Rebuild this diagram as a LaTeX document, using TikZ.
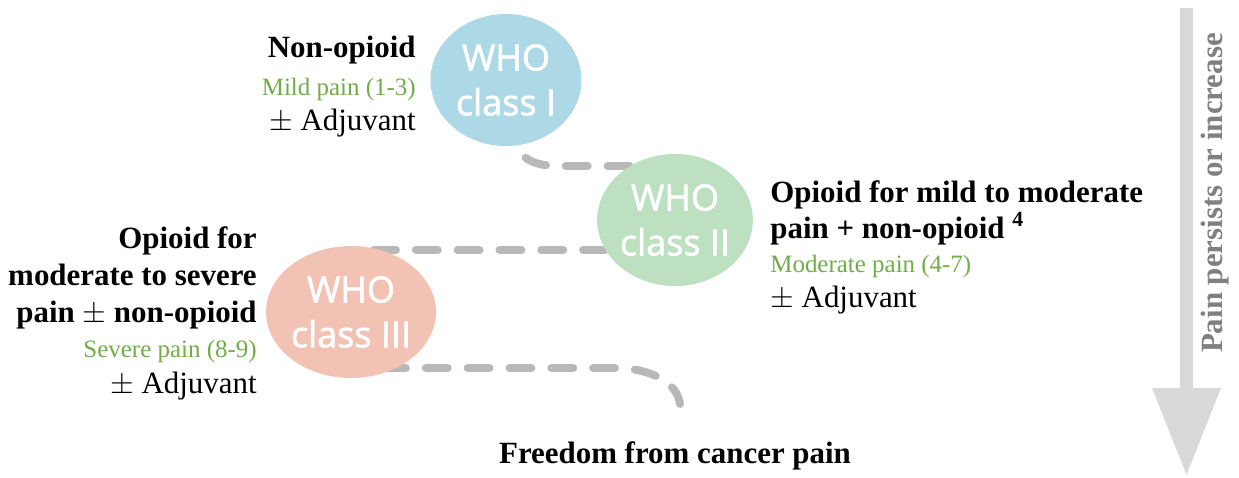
\documentclass[tikz,border=0pt]{standalone}
\usepackage{fontspec}
\setmainfont{Liberation Serif}
\newfontfamily\whofont[FakeBold=1.6]{Open Sans}
\usepackage{xcolor}
\usetikzlibrary{shapes.geometric,arrows.meta,backgrounds}

\definecolor{whoblue}{HTML}{ADD8E6}
\definecolor{whogreen}{HTML}{BDE0C0}
\definecolor{whored}{HTML}{F2C2B4}
\definecolor{painlevel}{HTML}{70AD47}
\definecolor{pathgray}{HTML}{B8B8B8}
\definecolor{arrowgray}{HTML}{D9D9D9}
\definecolor{labelgray}{HTML}{808080}

\begin{document}
\begin{tikzpicture}[
    x=0.02cm, y=-0.02cm,
    whoclass/.style={ellipse, minimum width=3.02cm, minimum height=2.64cm, inner sep=0pt, align=center, text=white, font=\whofont\fontsize{20.5}{25.5}\selectfont},
    drug/.style={font=\bfseries\fontsize{17.6}{21}\selectfont, inner sep=0pt},
    painrange/.style={text=painlevel, font=\fontsize{14.2}{17}\selectfont, inner sep=0pt},
    adjuvant/.style={font=\fontsize{17.6}{21}\selectfont, inner sep=0pt},
    ladder/.style={draw=pathgray, line width=4.5pt, line cap=round, dash pattern=on 12.5pt off 11.3pt},
    painarrow/.style={draw=arrowgray, line width=7.4pt, -{Triangle[width=37pt, length=50pt, fill=arrowgray]}}
]
    \useasboundingbox (0,0) rectangle (1239,477);

    % ============ WHO classes ============
    \node[whoclass, fill=whoblue] (c1) at (506,80) {WHO\\class I};
    \node[whoclass, fill=whogreen] (c2) at (675,220) {WHO\\class II};
    \node[whoclass, fill=whored] (c3) at (351,312) {WHO\\class III};

    % ============ Ladder path (behind) ============
    \coordinate (p1a) at (514,143);
    \coordinate (p1b) at (560,166);
    \coordinate (p1c) at (660,166);
    \coordinate (p2a) at (374,250);
    \coordinate (p3a) at (384,368);
    \coordinate (p3b) at (615,368);
    \coordinate (p3c) at (680,404);
    \begin{scope}[on background layer]
        \draw[ladder, dash phase=13pt] (p1a) .. controls +(8,17) and +(-25,0) .. (p1b) -- (p1c);
        \draw[ladder] (p2a) -- (c2.center |- p2a);
        \draw[ladder] (p3a) -- (p3b) .. controls +(35,0) and +(-3,-22) .. (p3c);
    \end{scope}

    % ============ Class I ============
    \node[drug, anchor=base east] (t1a) at (416,57) {Non-opioid};
    \node[painrange, anchor=base east] (t1b) at (416,95) {Mild pain (1-3)};
    \node[adjuvant, anchor=base east] (t1c) at (416,130) {$\pm$ Adjuvant};

    % ============ Class II ============
    \node[drug, anchor=base west] (t2a) at (770,202) {Opioid for mild to moderate};
    \node[drug, anchor=base west] (t2b) at (770,238) {pain + non-opioid \textsuperscript{4}};
    \node[painrange, anchor=base west] (t2c) at (770,272) {Moderate pain (4-7)};
    \node[adjuvant, anchor=base west] (t2d) at (770,307) {$\pm$ Adjuvant};

    % ============ Class III ============
    \node[drug, anchor=base east] (t3a) at (257,248) {Opioid for};
    \node[drug, anchor=base east] (t3b) at (257,285) {moderate to severe};
    \node[drug, anchor=base east] (t3c) at (257,322) {pain $\pm$ non-opioid};
    \node[painrange, anchor=base east] (t3d) at (257,357) {Severe pain (8-9)};
    \node[adjuvant, anchor=base east] (t3e) at (257,393) {$\pm$ Adjuvant};

    % ============ Goal ============
    \node[drug, anchor=base] (goal) at (675,463) {Freedom from cancer pain};

    % ============ Pain arrow ============
    \coordinate (atop) at (1186.5,8);
    \coordinate (abot) at (1186.5,476);
    \draw[painarrow] (atop) -- (abot);
    \node[drug, text=labelgray, rotate=90, anchor=base] (persist) at (1222,193) {Pain persists or increase};

\end{tikzpicture}
\end{document}
